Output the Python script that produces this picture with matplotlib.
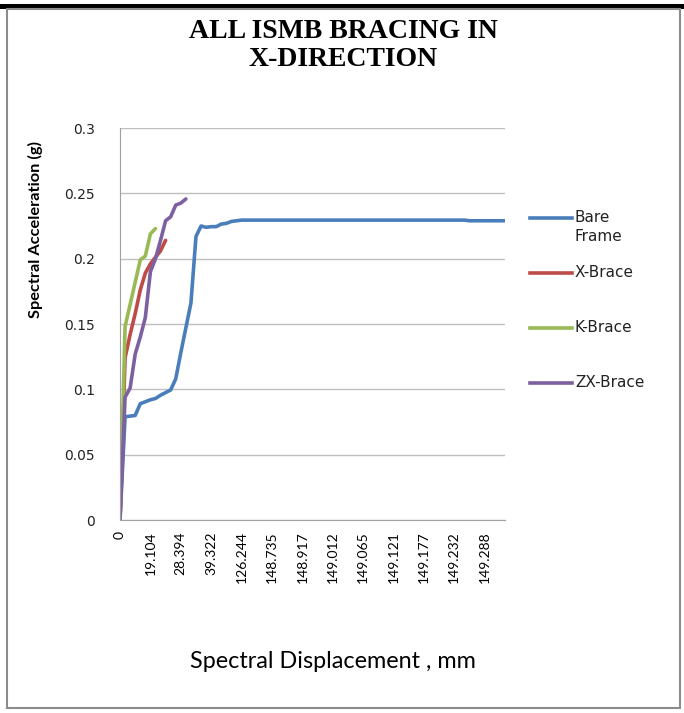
import matplotlib
matplotlib.use("Agg")
from matplotlib import pyplot as plt
from matplotlib.lines import Line2D
from matplotlib.patches import Rectangle

# category axis: displacement labels shown every 6th point
tick_step = 6
tick_labels = ['0', '19.104', '28.394', '39.322', '126.244', '148.735', '148.917',
               '149.012', '149.065', '149.121', '149.177', '149.232', '149.288']

bare_frame = [0, 0.079, 0.0795, 0.080, 0.089, 0.0905, 0.092, 0.093, 0.0955, 0.0975,
              0.0995, 0.108, 0.128, 0.147, 0.166, 0.217, 0.225, 0.224, 0.2245, 0.2245,
              0.2265, 0.227, 0.2285, 0.229] + [0.2295] * 45 + [0.229] * 8
x_brace = [0, 0.124, 0.142, 0.158, 0.176, 0.189, 0.196, 0.201, 0.206, 0.214]
k_brace = [0, 0.148, 0.165, 0.182, 0.199, 0.202, 0.219, 0.223]
zx_brace = [0, 0.094, 0.101, 0.127, 0.140, 0.155, 0.190, 0.200, 0.214, 0.229,
            0.232, 0.241, 0.2425, 0.2457]

names = ['Bare\nFrame', 'X-Brace', 'K-Brace', 'ZX-Brace']
series = [bare_frame, x_brace, k_brace, zx_brace]
colors = ['#4A7EBB', '#BE4B48', '#98B954', '#7D60A0']

W, H = 684, 713
fig = plt.figure(figsize=(W / 100, H / 100), dpi=100)

# black rule across the top and grey frame round the chart
fig.add_artist(Rectangle((0, 1 - 9 / H), 1, 5 / H, transform=fig.transFigure,
                         color='black', lw=0))
fig.add_artist(Rectangle((7 / W, 1 - 708 / H), 673 / W, 699 / H, transform=fig.transFigure,
                         fill=False, ec='#8c8c8c', lw=1.5))

ax = fig.add_axes([120 / W, 1 - 520 / H, 385 / W, 392 / H])
for vals, c in zip(series, colors):
    ax.plot(range(len(vals)), vals, color=c, lw=2.6, solid_capstyle='round')

n = len(bare_frame)
ax.set_xlim(0, n - 1)
ax.set_ylim(0, 0.3)
ax.set_yticks([0, 0.05, 0.1, 0.15, 0.2, 0.25, 0.3])
ax.set_yticklabels(['0', '0.05', '0.1', '0.15', '0.2', '0.25', '0.3'],
                   fontsize=10, color='#222222', family='DejaVu Sans')
ax.set_xticks(range(0, n, tick_step))
ax.set_xticklabels(tick_labels, rotation=90, fontsize=10, family='Lato', va='top')
ax.tick_params(axis='both', length=0)
ax.tick_params(axis='y', pad=18)
ax.tick_params(axis='x', pad=8)
ax.grid(axis='y', color='#c0c0c0', lw=1)
ax.set_axisbelow(True)
for s in ['top', 'right']:
    ax.spines[s].set_visible(False)
ax.spines['left'].set_color('#a0a0a0')
ax.spines['bottom'].set_color('#a0a0a0')

fig.text(343 / W, 1 - 32 / H, 'ALL ISMB BRACING IN', ha='center', va='center',
         fontsize=20, fontweight='bold', family='Liberation Serif')
fig.text(343 / W, 1 - 59 / H, 'X-DIRECTION', ha='center', va='center',
         fontsize=20, fontweight='bold', family='Liberation Serif')
fig.text(35 / W, 1 - 229 / H, 'Spectral Acceleration (g)', rotation=90, ha='center',
         va='center', fontsize=11.8, fontweight='bold', family='Lato')
fig.text(333 / W, 1 - 662 / H, 'Spectral Displacement , mm', ha='center', va='center',
         fontsize=16.8, family='Lato')

# legend drawn beside the plot
leg_y = [218, 273, 328, 383]
for name, c, y in zip(names, colors, leg_y):
    fig.add_artist(Line2D([530 / W, 572 / W], [1 - y / H, 1 - y / H], color=c, lw=2.6,
                          transform=fig.transFigure))
    fig.text(575 / W, 1 - (y - 8) / H, name, ha='left', va='top', fontsize=11,
             family='DejaVu Sans', color='#222222', linespacing=1.3)

fig.savefig('out.png', dpi=100)
